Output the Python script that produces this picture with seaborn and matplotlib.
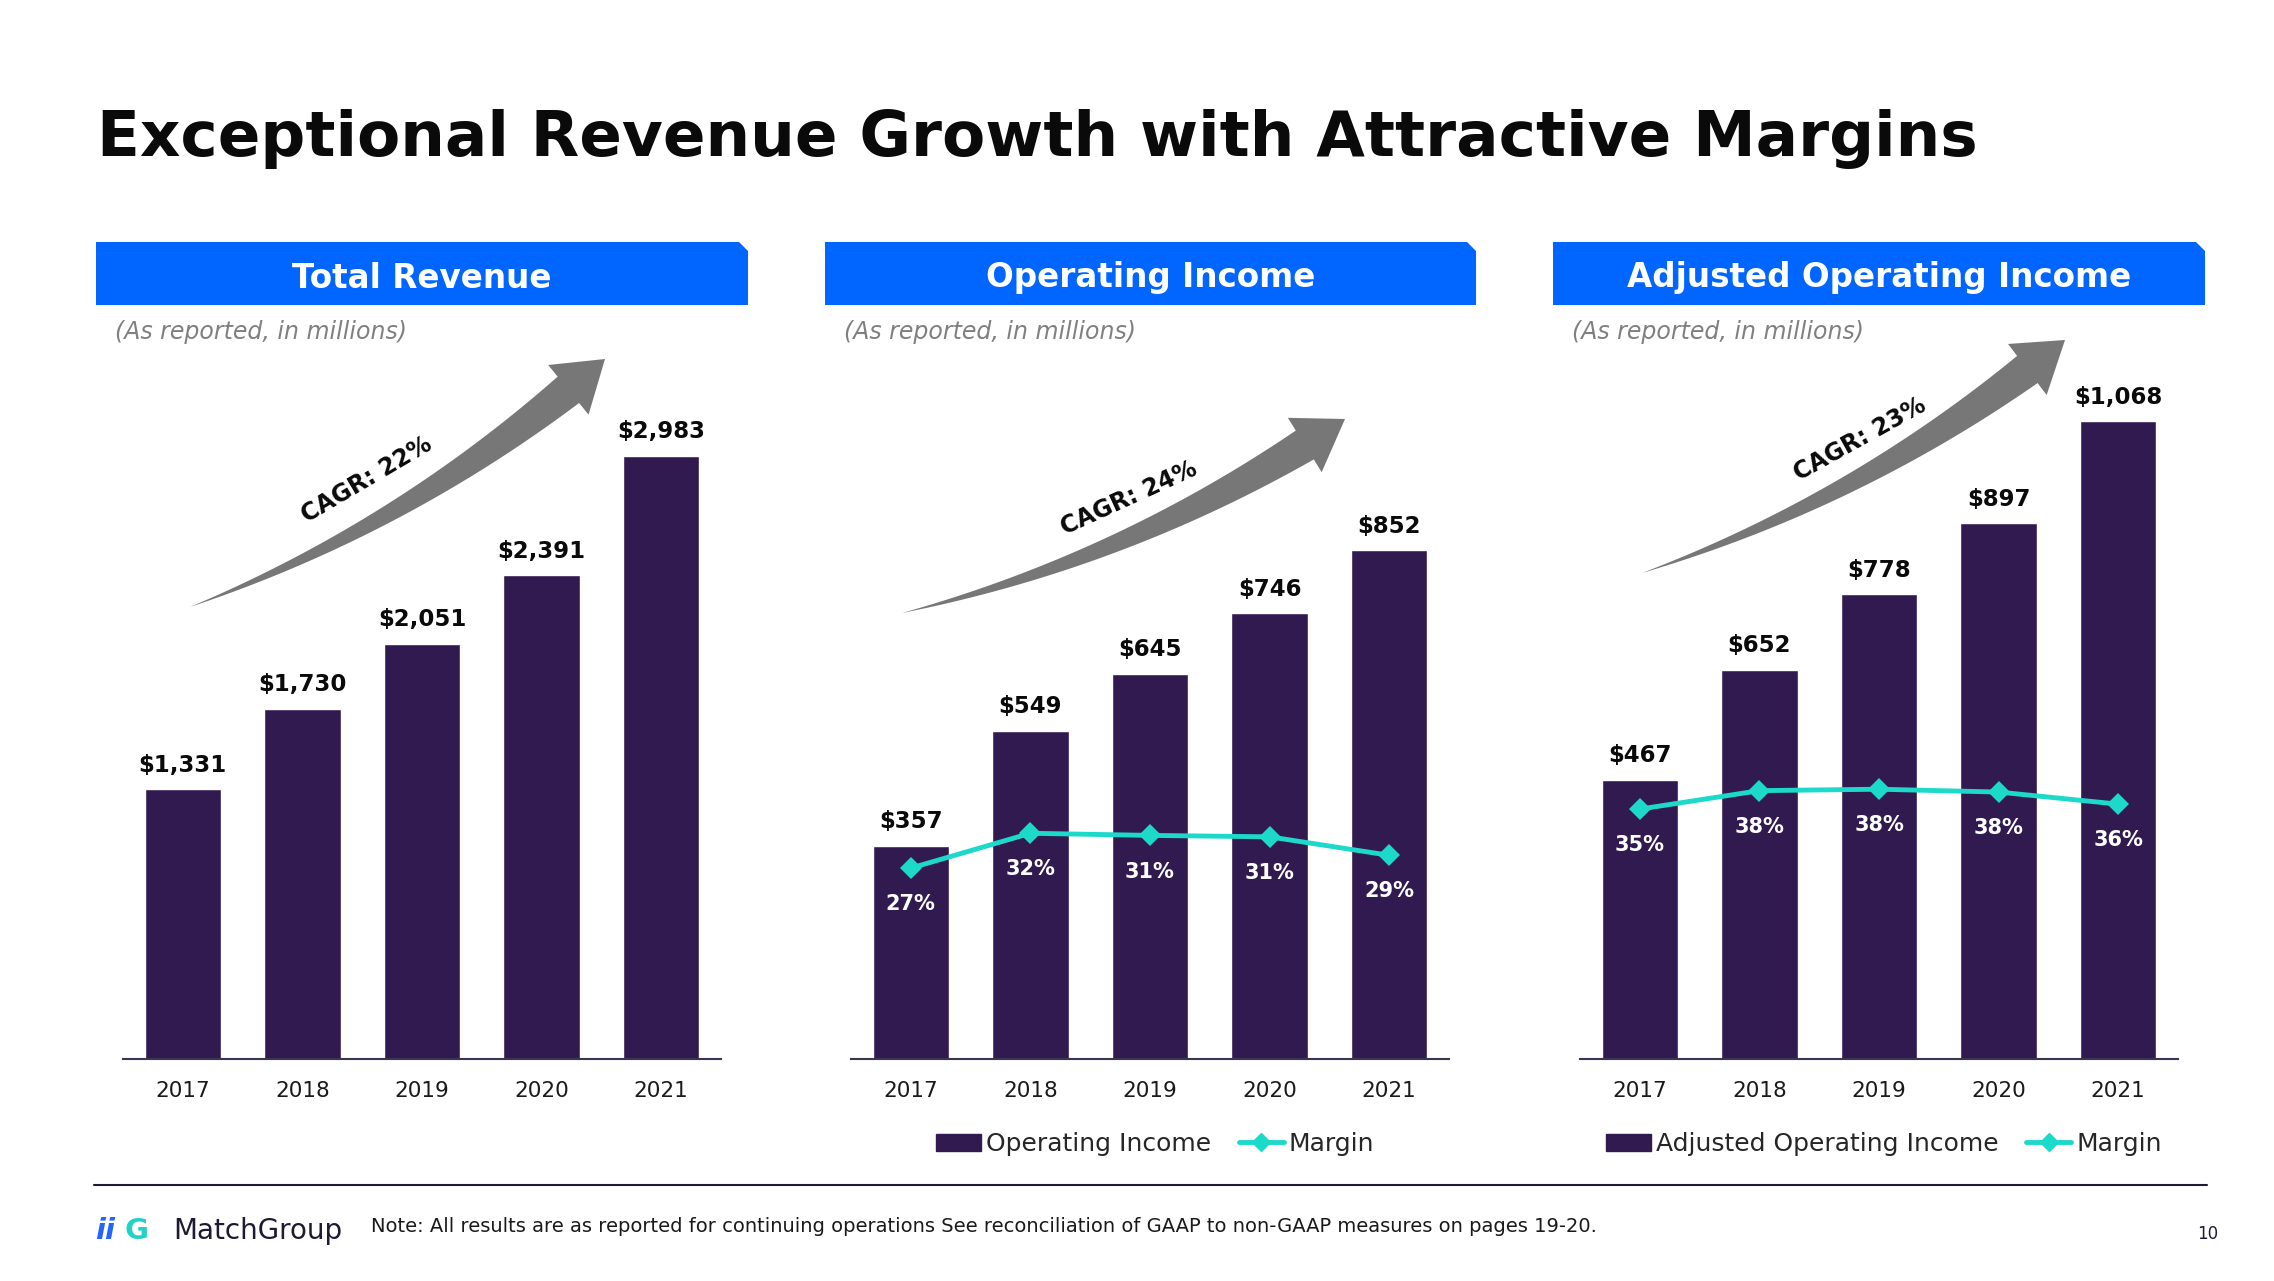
import numpy as np
import seaborn as sns
import matplotlib.pyplot as plt
from matplotlib.patches import Polygon, Patch
from matplotlib.lines import Line2D

years = ['2017', '2018', '2019', '2020', '2021']
revenue = [1331, 1730, 2051, 2391, 2983]
op_income = [357, 549, 645, 746, 852]
adj_op_income = [467, 652, 778, 897, 1068]
op_margin = [26.8, 31.7, 31.4, 31.2, 28.6]
adj_margin = [35.1, 37.7, 37.9, 37.5, 35.8]
op_margin_labels = ['27%', '32%', '31%', '31%', '29%']
adj_margin_labels = ['35%', '38%', '38%', '38%', '36%']
cagr_labels = ['CAGR: 22%', 'CAGR: 24%', 'CAGR: 23%']
panel_titles = ['Total Revenue', 'Operating Income', 'Adjusted Operating Income']
legend_names = [None, 'Operating Income', 'Adjusted Operating Income']

W, H = 2274, 1281
BAR = '#311A4F'
TEAL = '#1DD9CA'
BLUE = '#0066FF'
ARROW = '#777777'
INK = '#1E1A33'

sns.set_theme(style='white')
plt.rcParams['font.family'] = ['DejaVu Sans']

fig = plt.figure(figsize=(W / 100, H / 100), dpi=100)


def fx(x):
    return x / W


def fy(y):
    return 1 - y / H


def curved_arrow(tail, tip, bend=0.09, shaft_w=34, head_w=64, head_len=48):
    # tapered curved arrow, coordinates in pixels (y down)
    p0, p2 = np.array(tail, float), np.array(tip, float)
    d = p2 - p0
    L = np.hypot(*d)
    perp = np.array([-d[1], d[0]]) / L
    c = (p0 + p2) / 2 + perp * bend * L
    t = np.linspace(0, 1, 400)[:, None]
    pts = (1 - t) ** 2 * p0 + 2 * (1 - t) * t * c + t ** 2 * p2
    s = np.concatenate([[0], np.cumsum(np.hypot(*np.diff(pts, axis=0).T))])
    idx = np.searchsorted(s, s[-1] - head_len)
    tang = np.gradient(pts, axis=0)
    tang /= np.hypot(tang[:, 0], tang[:, 1])[:, None]
    nrm = np.column_stack([-tang[:, 1], tang[:, 0]])
    w = (shaft_w / 2) * (s[:idx + 1] / s[idx])[:, None]
    left = pts[:idx + 1] + nrm[:idx + 1] * w
    right = pts[:idx + 1] - nrm[:idx + 1] * w
    base = pts[idx]
    poly = np.vstack([left, base + nrm[idx] * head_w / 2, p2,
                      base - nrm[idx] * head_w / 2, right[::-1]])
    poly = np.column_stack([fx(poly[:, 0]), fy(poly[:, 1])])
    fig.patches.append(Polygon(poly, closed=True, transform=fig.transFigure,
                               facecolor=ARROW, edgecolor='none'))


# title
fig.text(fx(97), fy(139), 'Exceptional Revenue Growth with Attractive Margins',
         fontsize=45.3, fontweight='bold', va='center', color='#0a0a0a')

panels = [
    (revenue, None, None, 3515),
    (op_income, op_margin, op_margin_labels, 1191),
    (adj_op_income, adj_margin, adj_margin_labels, 1191),
]
axes_left = [123, 851, 1580]
header_x = [(96, 748), (825, 1476), (1553, 2205)]
arrows = [((190, 607), (605, 359)), ((902, 613), (1345, 419)), ((1642, 573), (2065, 340))]
cagr_pos = [((367, 480), 30.5), ((1129, 498), 24.5), ((1860, 439), 29)]
legend_pos = [None, (1155, 1144), (1884, 1144)]

for i, (vals, margin, mlabels, ymax) in enumerate(panels):
    ax = fig.add_axes([fx(axes_left[i]), fy(1058.5), 598 / W, (1058.5 - 348) / H])
    sns.barplot(x=years, y=vals, color=BAR, saturation=1, width=0.64, ax=ax)
    ax.set_xlim(-0.5, 4.5)
    ax.set_ylim(0, ymax)
    ax.set_xlabel('')
    ax.set_ylabel('')
    ax.set_yticks([])
    for sp in ['top', 'left', 'right']:
        ax.spines[sp].set_visible(False)
    ax.spines['bottom'].set_color('#3a3550')
    ax.spines['bottom'].set_linewidth(1.5)
    ax.tick_params(axis='x', length=0, pad=16, labelsize=15.5, labelcolor='#1a1a1a')
    ax.bar_label(ax.containers[0], labels=[f'${v:,}' for v in vals],
                 padding=9, fontsize=16.5, fontweight='bold', color='#0a0a0a')

    if margin is not None:
        ax2 = ax.twinx()
        sns.lineplot(x=np.arange(len(years)), y=margin, ax=ax2, color=TEAL,
                     lw=3.5, marker='D', markersize=11, markeredgewidth=0)
        ax2.set_ylim(0, 100)
        ax2.set_yticks([])
        ax2.set_ylabel('')
        for sp in ax2.spines.values():
            sp.set_visible(False)
        for j, (m, lab) in enumerate(zip(margin, mlabels)):
            ax2.annotate(lab, (j, m), xytext=(0, -26), textcoords='offset points',
                         ha='center', va='center', color='white',
                         fontweight='bold', fontsize=15)
        handles = [Patch(color=BAR),
                   Line2D([], [], color=TEAL, lw=3.5, marker='D', markersize=9)]
        lx, ly = legend_pos[i]
        ax2.legend(handles, [legend_names[i], 'Margin'], loc='center',
                   bbox_to_anchor=(fx(lx), fy(ly)), bbox_transform=fig.transFigure,
                   ncol=2, frameon=False, fontsize=18, handlelength=1.8,
                   handletextpad=0.2, columnspacing=1.1)

    # header box with clipped corner
    x0, x1 = header_x[i]
    hdr = [(x0, 242), (x1 - 9, 242), (x1, 251), (x1, 305), (x0, 305)]
    fig.patches.append(Polygon([(fx(a), fy(b)) for a, b in hdr], closed=True,
                               transform=fig.transFigure, facecolor=BLUE, edgecolor='none'))
    fig.text(fx((x0 + x1) / 2), fy(278), panel_titles[i], fontsize=23.5,
             fontweight='bold', color='white', ha='center', va='center')
    fig.text(fx(x0 + 19), fy(332), '(As reported, in millions)', fontsize=17,
             style='italic', color='#808080', va='center')

    curved_arrow(*arrows[i])
    (cx, cy), ang = cagr_pos[i]
    fig.text(fx(cx), fy(cy), cagr_labels[i], fontsize=17, fontweight='bold',
             rotation=ang, rotation_mode='anchor', ha='center', va='center', color='#0a0a0a')

# footer
fig.add_artist(Line2D([fx(94), fx(2207)], [fy(1185), fy(1185)],
                      transform=fig.transFigure, color=INK, lw=1.5))
fig.text(fx(95), fy(1231), 'ii', fontsize=21, fontweight='bold', style='italic',
         color='#2266FF', va='center')
fig.text(fx(124), fy(1231), 'G', fontsize=21, fontweight='bold', color='#22D3C5', va='center')
fig.text(fx(173), fy(1231), 'MatchGroup', fontsize=20, color=INK, va='center')
fig.text(fx(371), fy(1226),
         'Note: All results are as reported for continuing operations See reconciliation '
         'of GAAP to non-GAAP measures on pages 19-20.',
         fontsize=14, color='#1a1a1a', va='center')
fig.text(fx(2197), fy(1234), '10', fontsize=12, color=INK, va='center')

fig.savefig('out.png', dpi=100)
